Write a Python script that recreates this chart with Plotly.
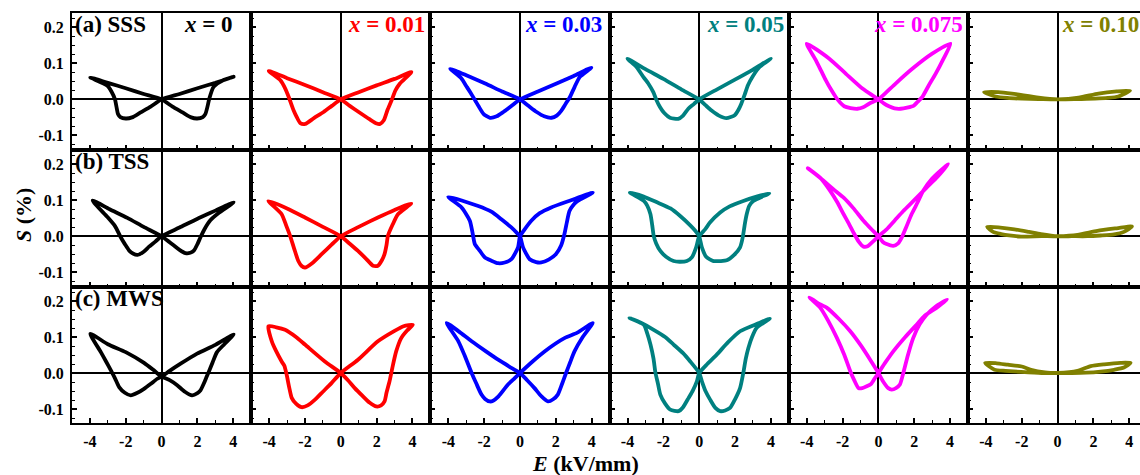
import plotly.graph_objects as go

# Electric-field-induced strain loops, S (%) vs E (kV/mm)
# rows: SSS / TSS / MWS, columns: x = 0 ... 0.10

COMPOSITIONS = ["0", "0.01", "0.03", "0.05", "0.075", "0.10"]
COLORS = ["#000000", "#FF0000", "#0000FF", "#008080", "#FF00FF", "#808000"]
ROW_LABELS = ["(a) SSS", "(b) TSS", "(c) MWS"]
X_TICKS = [-4, -2, 0, 2, 4]
X_TICK_TEXT = ["-4", "-2", "0", "2", "4"]
Y_TICKS = [-0.1, 0.0, 0.1, 0.2]
Y_TICK_TEXT = ["-0.1", "0.0", "0.1", "0.2"]

# ---------------- (a) SSS ----------------
E_SSS_0 = [0, 0.61, 1.17, 1.65, 1.98, 2.3, 2.44, 2.56, 2.65, 2.9, 3.46, 4.02,
           3.0, 2.0, 1.0, 0,
           -0.61, -1.17, -1.65, -2.0, -2.3, -2.43, -2.52, -2.6, -2.8, -3.02, -3.98,
           -3.0, -2.0, -1.0, 0]
S_SSS_0 = [0, -0.020, -0.036, -0.050, -0.053, -0.049, -0.041, -0.020, 0.0, 0.035, 0.054, 0.063,
           0.046, 0.031, 0.015, 0,
           -0.020, -0.036, -0.050, -0.053, -0.049, -0.041, -0.020, 0.0, 0.022, 0.038, 0.061,
           0.046, 0.031, 0.015, 0]

E_SSS_001 = [0, 0.5, 1.0, 1.6, 2.0, 2.19, 2.4, 2.6, 2.83, 3.05, 3.3, 3.94,
             3.0, 2.0, 1.0, 0,
             -0.5, -0.96, -1.5, -1.98, -2.26, -2.45, -2.63, -2.9, -3.1, -3.37, -4.02,
             -3.0, -2.0, -1.0, 0]
S_SSS_001 = [0, -0.018, -0.035, -0.055, -0.067, -0.068, -0.058, -0.030, -0.003, 0.025, 0.044, 0.076,
             0.057, 0.039, 0.020, 0,
             -0.018, -0.035, -0.052, -0.068, -0.066, -0.050, -0.031, 0.006, 0.030, 0.053, 0.079,
             0.059, 0.040, 0.020, 0]

E_SSS_003 = [0, 0.45, 0.93, 1.35, 1.76, 2.05, 2.31, 2.55, 2.78, 3.05, 3.33, 3.98,
             3.0, 2.04, 1.0, 0,
             -0.45, -0.93, -1.3, -1.67, -2.04, -2.3, -2.5, -2.75, -2.96, -3.3, -3.89,
             -2.9, -1.94, -1.0, 0]
S_SSS_003 = [0, -0.017, -0.035, -0.047, -0.051, -0.045, -0.031, -0.012, 0.006, 0.035, 0.062, 0.088,
             0.065, 0.044, 0.022, 0,
             -0.017, -0.035, -0.047, -0.051, -0.040, -0.020, -0.003, 0.018, 0.034, 0.060, 0.085,
             0.065, 0.044, 0.022, 0]

E_SSS_005 = [0, 0.35, 0.69, 1.1, 1.52, 1.98, 2.2, 2.35, 2.55, 2.72, 3.0, 3.37, 4.0,
             3.0, 2.07, 1.0, 0,
             -0.3, -0.61, -0.9, -1.17, -1.63, -1.95, -2.19, -2.4, -2.56, -2.85, -3.11, -3.5, -4.0,
             -3.0, -2.0, -1.0, 0]
S_SSS_005 = [0, -0.016, -0.031, -0.045, -0.052, -0.044, -0.028, -0.012, 0.015, 0.039, 0.065, 0.090, 0.113,
             0.083, 0.057, 0.028, 0,
             -0.013, -0.026, -0.045, -0.054, -0.051, -0.038, -0.021, 0.0, 0.020, 0.045, 0.062, 0.090, 0.113,
             0.084, 0.057, 0.028, 0]

E_SSS_0075 = [0, 0.3, 0.59, 0.9, 1.24, 1.6, 1.98, 2.2, 2.44, 2.8, 3.19, 3.6, 4.02,
              3.0, 1.89, 0.96, 0.45, 0,
              -0.26, -0.52, -0.85, -1.17, -1.55, -1.91, -2.15, -2.37, -2.65, -2.93, -3.2, -3.48, -4.0,
              -2.74, -1.81, -0.89, 0]
S_SSS_0075 = [0, -0.011, -0.019, -0.025, -0.026, -0.023, -0.017, -0.006, 0.006, 0.038, 0.071, 0.110, 0.155,
              0.127, 0.085, 0.044, 0.020, 0,
              -0.006, -0.012, -0.022, -0.026, -0.024, -0.019, -0.008, 0.006, 0.028, 0.053, 0.080, 0.108, 0.155,
              0.113, 0.071, 0.030, 0]

E_SSS_010 = [0, 1.17, 2.09, 2.8, 3.39, 4.04, 3.3, 2.28, 1.17, 0,
             -1.06, -1.98, -2.8, -3.46, -4.1, -3.3, -2.55, -1.06, 0]
S_SSS_010 = [0, 0.001, 0.002, 0.004, 0.008, 0.024, 0.022, 0.016, 0.005, 0,
             0.001, 0.002, 0.004, 0.008, 0.020, 0.020, 0.016, 0.005, 0]

# ---------------- (b) TSS ----------------
E_TSS_0 = [0, 0.35, 0.69, 1.0, 1.33, 1.6, 1.8, 2.0, 2.17, 2.4, 2.72, 3.2, 4.02,
           3.0, 1.98, 1.0, 0,
           -0.35, -0.7, -1.0, -1.35, -1.6, -1.81, -2.05, -2.28, -2.6, -3.02, -3.85,
           -2.9, -1.91, -1.0, 0]
S_TSS_0 = [0, -0.013, -0.026, -0.038, -0.047, -0.046, -0.040, -0.022, -0.003, 0.020, 0.044, 0.065, 0.094,
           0.071, 0.048, 0.024, 0,
           -0.015, -0.029, -0.043, -0.052, -0.048, -0.040, -0.022, -0.003, 0.028, 0.053, 0.099,
           0.075, 0.051, 0.026, 0]

E_TSS_001 = [0, 0.5, 0.96, 1.4, 1.8, 2.07, 2.3, 2.44, 2.55, 2.63, 2.9, 3.19, 3.93,
             3.0, 2.07, 1.0, 0,
             -0.5, -1.07, -1.6, -2.0, -2.2, -2.37, -2.6, -2.83, -3.05, -3.3, -4.04,
             -3.0, -2.0, -1.0, 0]
S_TSS_001 = [0, -0.021, -0.041, -0.062, -0.082, -0.082, -0.066, -0.050, -0.025, 0.001, 0.033, 0.061, 0.091,
             0.073, 0.052, 0.026, 0,
             -0.023, -0.050, -0.075, -0.087, -0.082, -0.069, -0.035, 0.001, 0.030, 0.061, 0.098,
             0.077, 0.052, 0.026, 0]

E_TSS_003 = [0, 0.17, 0.54, 0.9, 1.19, 1.6, 2.0, 2.3, 2.48, 2.62, 2.76, 3.0, 3.22, 4.06,
             2.85, 1.74, 1.1, 0.63, 0.2, 0,
             -0.11, -0.48, -0.85, -1.22, -1.6, -1.96, -2.25, -2.52, -2.65, -2.8, -3.26, -4.0,
             -2.33, -1.6, -1.04, -0.5, -0.15, 0]
S_TSS_003 = [0, -0.031, -0.064, -0.072, -0.073, -0.065, -0.050, -0.025, 0.006, 0.040, 0.070, 0.088, 0.098, 0.121,
             0.100, 0.080, 0.064, 0.043, 0.015, 0,
             -0.031, -0.064, -0.073, -0.075, -0.068, -0.059, -0.040, -0.022, 0.010, 0.043, 0.080, 0.109,
             0.084, 0.068, 0.047, 0.025, 0.008, 0]

E_TSS_005 = [0, 0.15, 0.4, 0.8, 1.2, 1.54, 1.95, 2.28, 2.4, 2.46, 2.55, 2.65, 2.8, 3.02, 3.91,
             3.2, 2.46, 1.7, 1.17, 0.6, 0.33, 0,
             -0.17, -0.4, -0.69, -1.1, -1.43, -1.85, -2.17, -2.4, -2.54, -2.62, -2.72, -2.9, -3.09, -3.87,
             -3.1, -2.35, -1.6, -1.06, -0.5, -0.22, 0]
S_TSS_005 = [0, -0.031, -0.058, -0.069, -0.069, -0.067, -0.052, -0.031, -0.010, 0.006, 0.035, 0.061, 0.085, 0.098, 0.119,
             0.110, 0.098, 0.083, 0.066, 0.038, 0.019, 0,
             -0.031, -0.058, -0.069, -0.071, -0.069, -0.057, -0.041, -0.020, 0.001, 0.030, 0.061, 0.085, 0.098, 0.121,
             0.110, 0.094, 0.077, 0.056, 0.030, 0.015, 0]

E_TSS_0075 = [0, 0.25, 0.46, 0.83, 1.1, 1.3, 1.55, 1.85, 2.2, 2.5, 3.0, 3.89,
              3.3, 2.69, 2.0, 1.39, 0.9, 0.46, 0,
              -0.2, -0.37, -0.6, -0.83, -1.1, -1.39, -1.65, -1.94, -2.3, -2.69, -3.2, -3.94,
              -3.5, -3.06, -2.5, -1.94, -1.4, -0.83, -0.4, 0]
S_TSS_0075 = [0, -0.016, -0.022, -0.027, -0.020, -0.004, 0.025, 0.061, 0.095, 0.126, 0.160, 0.200,
              0.165, 0.135, 0.100, 0.070, 0.043, 0.019, 0,
              -0.010, -0.018, -0.028, -0.029, -0.015, 0.010, 0.035, 0.061, 0.095, 0.126, 0.160, 0.189,
              0.172, 0.154, 0.130, 0.107, 0.078, 0.043, 0.020, 0]

E_TSS_010 = [0, 0.8, 1.67, 2.4, 3.15, 3.7, 4.15, 3.3, 2.22, 1.11, 0,
             -0.9, -2.04, -2.7, -3.15, -3.6, -3.93, -3.2, -2.41, -1.6, -0.93, 0]
S_TSS_010 = [0, 0.0, 0.0, 0.002, 0.005, 0.012, 0.027, 0.022, 0.015, 0.004, 0,
             0.0, -0.001, 0.002, 0.006, 0.012, 0.026, 0.024, 0.019, 0.012, 0.006, 0]

# ---------------- (c) MWS ----------------
E_MWS_0 = [0, 0.45, 0.87, 1.3, 1.7, 2.0, 2.17, 2.35, 2.5, 2.63, 2.85, 3.09, 3.5, 4.02,
           3.0, 1.98, 1.06, 0.45, 0,
           -0.24, -0.6, -0.98, -1.35, -1.72, -2.05, -2.37, -2.6, -2.83, -3.1, -3.39, -3.98,
           -3.0, -2.0, -0.98, -0.45, 0]
S_MWS_0 = [-0.010, -0.020, -0.034, -0.052, -0.062, -0.056, -0.048, -0.030, -0.012, 0.003, 0.030, 0.058, 0.080, 0.107,
           0.078, 0.054, 0.026, 0.006, -0.010,
           -0.016, -0.030, -0.044, -0.055, -0.062, -0.055, -0.039, -0.015, 0.007, 0.032, 0.058, 0.109,
           0.080, 0.058, 0.028, 0.008, -0.010]

E_MWS_001 = [0, 0.4, 0.78, 1.2, 1.6, 1.98, 2.25, 2.44, 2.55, 2.72, 2.9, 3.09, 3.37, 3.7, 4.02,
             3.5, 3.0, 2.07, 0.96, 0,
             -0.52, -1.0, -1.44, -1.85, -2.19, -2.5, -2.74, -2.88, -3.02, -3.15, -3.3, -3.6, -3.85, -4.04,
             -3.6, -3.11, -2.5, -2.0, -0.89, 0]
S_MWS_001 = [0, -0.020, -0.042, -0.063, -0.082, -0.093, -0.090, -0.079, -0.055, -0.023, 0.020, 0.060, 0.097, 0.118, 0.134,
             0.130, 0.117, 0.088, 0.037, 0,
             -0.028, -0.052, -0.074, -0.090, -0.095, -0.085, -0.069, -0.040, -0.005, 0.020, 0.032, 0.060, 0.088, 0.130,
             0.127, 0.120, 0.100, 0.079, 0.032, 0]

E_MWS_003 = [0, 0.4, 0.81, 1.2, 1.56, 1.85, 2.11, 2.35, 2.57, 2.8, 3.04, 3.5, 4.06,
             3.2, 2.48, 1.37, 0.7, 0,
             -0.33, -0.67, -1.2, -1.5, -1.69, -1.95, -2.15, -2.45, -2.7, -3.1, -3.44, -4.09,
             -3.4, -2.7, -1.9, -1.22, -0.6, 0]
S_MWS_003 = [0, -0.020, -0.042, -0.065, -0.079, -0.073, -0.060, -0.030, 0.0, 0.030, 0.060, 0.100, 0.139,
             0.112, 0.097, 0.060, 0.032, 0,
             -0.016, -0.032, -0.065, -0.077, -0.079, -0.072, -0.060, -0.028, 0.0, 0.050, 0.088, 0.139,
             0.115, 0.088, 0.060, 0.037, 0.018, 0]

E_MWS_005 = [0, 0.15, 0.35, 0.61, 0.9, 1.17, 1.45, 1.72, 2.0, 2.28, 2.46, 2.6, 2.74, 2.95, 3.2, 3.94,
             3.3, 2.28, 1.6, 0.98, 0.45, 0,
             -0.13, -0.35, -0.59, -0.9, -1.15, -1.61, -1.9, -2.17, -2.3, -2.44, -2.55, -2.72, -2.9, -3.09, -3.89,
             -3.2, -2.54, -1.9, -1.43, -0.9, -0.5, 0]
S_MWS_005 = [0, -0.023, -0.050, -0.074, -0.097, -0.106, -0.104, -0.097, -0.073, -0.042, 0.0, 0.040, 0.069, 0.100, 0.125, 0.151,
             0.138, 0.116, 0.085, 0.051, 0.025, 0,
             -0.023, -0.048, -0.069, -0.095, -0.106, -0.102, -0.085, -0.060, -0.030, 0.0, 0.040, 0.079, 0.110, 0.134, 0.153,
             0.138, 0.120, 0.100, 0.079, 0.055, 0.032, 0]

E_MWS_0075 = [0, 0.28, 0.55, 0.74, 0.98, 1.2, 1.39, 1.65, 1.94, 2.3, 2.69, 3.2, 3.83,
              3.24, 2.6, 2.13, 1.5, 0.83, 0.4, 0,
              -0.19, -0.4, -0.65, -0.9, -1.11, -1.35, -1.57, -1.9, -2.31, -2.8, -3.24, -3.85,
              -3.4, -2.87, -2.2, -1.57, -1.0, -0.46, 0]
S_MWS_0075 = [0, -0.025, -0.042, -0.046, -0.042, -0.032, 0.0, 0.050, 0.097, 0.135, 0.162, 0.185, 0.204,
              0.181, 0.160, 0.134, 0.100, 0.060, 0.030, 0,
              -0.014, -0.030, -0.037, -0.042, -0.042, -0.020, 0.005, 0.050, 0.097, 0.145, 0.181, 0.210,
              0.195, 0.181, 0.150, 0.116, 0.078, 0.037, 0]

E_MWS_010 = [0, 0.8, 1.6, 2.4, 3.15, 3.7, 4.07, 3.5, 2.6, 1.85, 1.11, 0,
             -0.9, -2.04, -2.9, -3.52, -4.04, -3.4, -2.78, -2.0, -1.48, -0.7, 0]
S_MWS_010 = [0, 0.0, 0.001, 0.004, 0.009, 0.015, 0.028, 0.028, 0.024, 0.019, 0.006, 0,
             0.0, 0.003, 0.006, 0.009, 0.028, 0.027, 0.023, 0.018, 0.009, 0.002, 0]

LOOPS = [
    [(E_SSS_0, S_SSS_0), (E_SSS_001, S_SSS_001), (E_SSS_003, S_SSS_003),
     (E_SSS_005, S_SSS_005), (E_SSS_0075, S_SSS_0075), (E_SSS_010, S_SSS_010)],
    [(E_TSS_0, S_TSS_0), (E_TSS_001, S_TSS_001), (E_TSS_003, S_TSS_003),
     (E_TSS_005, S_TSS_005), (E_TSS_0075, S_TSS_0075), (E_TSS_010, S_TSS_010)],
    [(E_MWS_0, S_MWS_0), (E_MWS_001, S_MWS_001), (E_MWS_003, S_MWS_003),
     (E_MWS_005, S_MWS_005), (E_MWS_0075, S_MWS_0075), (E_MWS_010, S_MWS_010)],
]

# ---------------- layout geometry (pixels) ----------------
W, H = 1140, 475
LEFT, PANEL_W = 72.0, 179.2
TOP, PANEL_H = 13.0, 136.8
X_MIN, X_MAX = -5.0, 5.0
Y_MIN, Y_MAX = -0.14, 0.24
FONT = "Liberation Serif, Times New Roman, Times, serif"

fig = go.Figure()
layout = dict(
    width=W, height=H, margin=dict(l=0, r=0, t=0, b=0),
    paper_bgcolor="white", plot_bgcolor="white", showlegend=False,
    font=dict(family=FONT, color="black", size=16, weight="bold"),
)

for r in range(3):
    for c in range(6):
        n = r * 6 + c + 1
        xa = "xaxis" if n == 1 else f"xaxis{n}"
        ya = "yaxis" if n == 1 else f"yaxis{n}"
        xref = "x" if n == 1 else f"x{n}"
        yref = "y" if n == 1 else f"y{n}"

        x0 = LEFT + PANEL_W * c
        x1 = x0 + PANEL_W
        xr = [X_MIN, X_MAX]
        if x1 > W:  # last column runs past the page edge
            xr = [X_MIN, X_MIN + (W - x0) / PANEL_W * (X_MAX - X_MIN)]
            x1 = W
        y0 = TOP + PANEL_H * r
        y1 = y0 + PANEL_H

        layout[xa] = dict(
            domain=[x0 / W, x1 / W], range=xr, anchor=yref,
            showline=True, linecolor="black", linewidth=2, mirror=True,
            showgrid=False, zeroline=True, zerolinecolor="black", zerolinewidth=2,
            ticks="inside", ticklen=5, tickwidth=1.5, tickcolor="black",
            tickmode="array", tickvals=X_TICKS, ticktext=X_TICK_TEXT,
            showticklabels=(r == 2), ticklabelstandoff=2,
            tickfont=dict(family=FONT, size=16, color="black", weight="bold"),
            minor=dict(ticks="inside", ticklen=3, tickwidth=1.2, tickcolor="black",
                       tickmode="linear", tick0=0, dtick=1),
            fixedrange=True,
        )
        layout[ya] = dict(
            domain=[1 - y1 / H, 1 - y0 / H], range=[Y_MIN, Y_MAX], anchor=xref,
            showline=True, linecolor="black", linewidth=2, mirror=(c < 5),
            showgrid=False, zeroline=True, zerolinecolor="black", zerolinewidth=2,
            ticks="inside", ticklen=5, tickwidth=1.5, tickcolor="black",
            tickmode="array", tickvals=Y_TICKS, ticktext=Y_TICK_TEXT,
            showticklabels=(c == 0), ticklabelstandoff=3,
            tickfont=dict(family=FONT, size=16, color="black", weight="bold"),
            minor=dict(ticks="inside", ticklen=3, tickwidth=1.2, tickcolor="black",
                       tickmode="linear", tick0=0, dtick=0.025),
            fixedrange=True,
        )

        e_vals, s_vals = LOOPS[r][c]
        fig.add_trace(go.Scatter(
            x=e_vals, y=s_vals, xaxis=xref, yaxis=yref, mode="lines",
            line=dict(color=COLORS[c], width=3.8, shape="spline", smoothing=0.6),
            hoverinfo="skip",
        ))

annotations = []
# composition labels across the top row
label_left = [182, 346, 523, 705, 872, 1060]
for c, comp in enumerate(COMPOSITIONS):
    annotations.append(dict(
        xref="paper", yref="paper", x=label_left[c] / W, y=1 - 25 / H,
        xanchor="left", yanchor="middle", showarrow=False,
        text=f"<i>x</i> = {comp}",
        font=dict(family=FONT, size=23, color=COLORS[c], weight="bold"),
    ))
# sample labels in the first column
for r, lab in enumerate(ROW_LABELS):
    annotations.append(dict(
        xref="paper", yref="paper", x=(LEFT + 1) / W, y=1 - (TOP + PANEL_H * r + 12) / H,
        xanchor="left", yanchor="middle", showarrow=False, text=lab,
        font=dict(family=FONT, size=23, color="black", weight="bold"),
    ))
# axis titles
annotations.append(dict(
    xref="paper", yref="paper", x=585 / W, y=1 - 463 / H,
    xanchor="center", yanchor="middle", showarrow=False,
    text="<i>E</i> (kV/mm)", font=dict(family=FONT, size=22, color="black", weight="bold"),
))
annotations.append(dict(
    xref="paper", yref="paper", x=23 / W, y=1 - 215 / H,
    xanchor="center", yanchor="middle", showarrow=False, textangle=-90,
    text="<i>S</i> (%)", font=dict(family=FONT, size=22, color="black", weight="bold"),
))
layout["annotations"] = annotations

fig.update_layout(**layout)
fig.write_html("out.html")
